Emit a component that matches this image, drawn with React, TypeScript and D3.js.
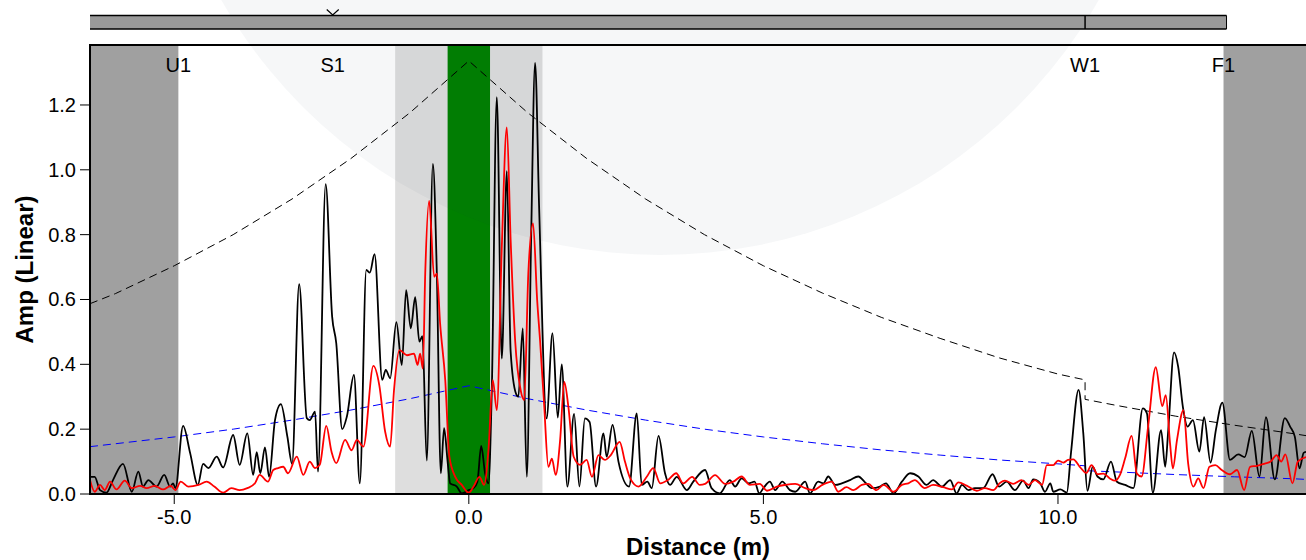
import React from "react";
import * as d3 from "d3";

// ---------- data ----------
const xDomain = [-6.43, 14.21];
const yDomain = [0, 1.385];
const xTickValues = [-5, 0, 5, 10];
const yTickValues = [0, 0.2, 0.4, 0.6, 0.8, 1.0, 1.2];

const eventNames = ["U1", "S1", "W1", "F1"];
const eventDist = [-4.93, -2.31, 10.46, 12.81];

const deadZone = [-1.25, 1.25];
const greenZone = [-0.36, 0.36];

const blackDist = [-6.43, -6.35, -6.26, -6.15, -6.04, -5.87, -5.72, -5.61, -5.53, -5.44, -5.3, -5.17, -5.07, -5.02, -4.98, -4.85, -4.73, -4.6, -4.51, -4.42, -4.28, -4.17, -4.0, -3.89, -3.76, -3.66, -3.6, -3.54, -3.46, -3.39, -3.29, -3.19, -3.08, -3.0, -2.88, -2.75, -2.7, -2.61, -2.56, -2.43, -2.32, -2.25, -2.15, -2.07, -1.95, -1.85, -1.74, -1.68, -1.6, -1.47, -1.41, -1.335, -1.23, -1.137, -1.064, -0.985, -0.91, -0.84, -0.787, -0.714, -0.61, -0.543, -0.475, -0.42, -0.36, -0.317, -0.204, -0.12, 0.0, 0.08, 0.146, 0.21, 0.276, 0.333, 0.39, 0.475, 0.56, 0.645, 0.71, 0.8, 0.84, 0.916, 0.984, 1.057, 1.125, 1.193, 1.32, 1.42, 1.51, 1.577, 1.673, 1.787, 1.877, 1.97, 2.05, 2.16, 2.285, 2.34, 2.44, 2.54, 2.72, 2.85, 2.935, 3.03, 3.105, 3.22, 3.33, 3.415, 3.53, 3.7, 3.81, 4.01, 4.12, 4.26, 4.43, 4.52, 4.63, 4.75, 4.85, 4.93, 5.0, 5.11, 5.2, 5.32, 5.45, 5.54, 5.71, 5.79, 5.93, 6.02, 6.1, 6.22, 6.33, 6.47, 6.61, 6.74, 6.84, 6.98, 7.08, 7.21, 7.35, 7.49, 7.63, 7.77, 7.88, 8.03, 8.17, 8.28, 8.37, 8.48, 8.59, 8.73, 8.89, 9.0, 9.13, 9.27, 9.41, 9.5, 9.58, 9.7, 9.78, 9.87, 9.92, 10.04, 10.15, 10.22, 10.35, 10.43, 10.5, 10.59, 10.67, 10.77, 10.9, 11.0, 11.14, 11.28, 11.44, 11.51, 11.61, 11.75, 11.82, 11.87, 11.97, 12.04, 12.12, 12.2, 12.29, 12.4, 12.48, 12.59, 12.68, 12.79, 12.92, 13.06, 13.17, 13.29, 13.42, 13.53, 13.68, 13.85, 13.94, 14.02, 14.1, 14.17, 14.21];
const blackAmp = [0.053, 0.053, 0.012, 0.004, 0.043, 0.093, 0.007, 0.069, 0.023, 0.043, 0.023, 0.059, 0.023, 0.033, 0.018, 0.21, 0.126, 0.028, 0.093, 0.08, 0.115, 0.082, 0.182, 0.09, 0.187, 0.059, 0.129, 0.064, 0.144, 0.053, 0.228, 0.277, 0.177, 0.093, 0.647, 0.234, 0.228, 0.254, 0.069, 0.956, 0.547, 0.465, 0.2, 0.239, 0.367, 0.033, 0.691, 0.683, 0.74, 0.352, 0.383, 0.357, 0.53, 0.398, 0.629, 0.511, 0.607, 0.47, 0.487, 0.103, 1.018, 0.681, 0.064, 0.203, 0.1, 0.033, 0.023, 0.002, 0.012, 0.018, 0.038, 0.148, 0.064, 0.033, 0.32, 1.224, 0.418, 0.996, 0.439, 0.31, 0.3, 0.511, 0.053, 0.783, 1.33, 0.886, 0.233, 0.496, 0.236, 0.4, 0.023, 0.247, 0.023, 0.233, 0.222, 0.023, 0.187, 0.115, 0.213, 0.1, 0.023, 0.249, 0.028, 0.038, 0.018, 0.179, 0.064, 0.028, 0.053, 0.012, 0.038, 0.074, 0.018, 0.002, 0.043, 0.023, 0.048, 0.033, 0.038, 0.002, 0.018, 0.038, 0.012, 0.038, 0.012, 0.007, 0.038, 0.002, 0.038, 0.033, 0.054, 0.028, 0.033, 0.043, 0.054, 0.033, 0.018, 0.023, 0.033, 0.002, 0.038, 0.064, 0.054, 0.028, 0.043, 0.023, 0.043, 0.002, 0.028, 0.012, 0.018, 0.018, 0.061, 0.023, 0.038, 0.012, 0.041, 0.018, 0.045, 0.033, 0.007, 0.033, 0.007, 0.014, 0.004, 0.125, 0.321, 0.187, 0.01, 0.084, 0.054, 0.045, 0.1, 0.038, 0.028, 0.018, 0.264, 0.249, 0.004, 0.197, 0.084, 0.192, 0.437, 0.393, 0.269, 0.208, 0.228, 0.131, 0.237, 0.097, 0.197, 0.282, 0.105, 0.122, 0.114, 0.195, 0.054, 0.237, 0.045, 0.234, 0.208, 0.177, 0.079, 0.127, 0.13];

const redDist = [-6.43, -6.35, -6.26, -6.18, -6.09, -5.98, -5.84, -5.72, -5.58, -5.47, -5.33, -5.19, -5.06, -4.98, -4.89, -4.76, -4.59, -4.45, -4.32, -4.17, -4.03, -3.89, -3.76, -3.63, -3.55, -3.41, -3.32, -3.24, -3.15, -3.07, -2.92, -2.81, -2.7, -2.61, -2.53, -2.42, -2.33, -2.25, -2.1, -1.99, -1.9, -1.79, -1.62, -1.52, -1.42, -1.335, -1.27, -1.177, -1.05, -0.93, -0.87, -0.827, -0.78, -0.74, -0.673, -0.588, -0.543, -0.487, -0.4, -0.33, -0.23, -0.12, 0.0, 0.08, 0.18, 0.26, 0.333, 0.407, 0.475, 0.56, 0.645, 0.71, 0.787, 0.88, 0.94, 1.01, 1.09, 1.16, 1.21, 1.28, 1.35, 1.41, 1.475, 1.55, 1.62, 1.69, 1.78, 1.89, 2.0, 2.09, 2.2, 2.31, 2.41, 2.56, 2.65, 2.74, 2.88, 3.02, 3.13, 3.25, 3.38, 3.52, 3.64, 3.79, 3.92, 4.01, 4.18, 4.35, 4.49, 4.63, 4.77, 4.94, 5.06, 5.23, 5.37, 5.54, 5.71, 5.85, 6.0, 6.16, 6.27, 6.41, 6.53, 6.67, 6.78, 6.92, 7.04, 7.21, 7.35, 7.46, 7.57, 7.74, 7.88, 8.05, 8.2, 8.31, 8.45, 8.62, 8.76, 8.9, 9.02, 9.1, 9.24, 9.38, 9.5, 9.61, 9.73, 9.81, 9.92, 10.0, 10.09, 10.17, 10.26, 10.37, 10.48, 10.57, 10.67, 10.77, 10.88, 10.97, 11.05, 11.14, 11.25, 11.34, 11.42, 11.53, 11.66, 11.77, 11.83, 11.9, 11.95, 12.02, 12.13, 12.21, 12.3, 12.38, 12.47, 12.57, 12.67, 12.78, 12.92, 13.04, 13.16, 13.26, 13.38, 13.51, 13.61, 13.71, 13.79, 13.86, 13.98, 14.07, 14.21];
const redAmp = [0.043, 0.007, 0.028, 0.012, 0.038, 0.014, 0.041, 0.018, 0.025, 0.018, 0.025, 0.014, 0.025, 0.012, 0.038, 0.023, 0.028, 0.038, 0.023, 0.004, 0.018, 0.012, 0.018, 0.033, 0.059, 0.038, 0.074, 0.08, 0.084, 0.064, 0.115, 0.059, 0.1, 0.08, 0.09, 0.21, 0.13, 0.095, 0.167, 0.135, 0.167, 0.146, 0.395, 0.336, 0.192, 0.146, 0.32, 0.444, 0.428, 0.433, 0.398, 0.433, 0.387, 0.68, 0.904, 0.67, 0.68, 0.525, 0.351, 0.115, 0.053, 0.028, 0.004, 0.023, 0.053, 0.028, 0.135, 0.351, 0.259, 0.763, 1.131, 0.783, 0.471, 0.32, 0.29, 0.681, 0.835, 0.598, 0.471, 0.269, 0.084, 0.109, 0.059, 0.167, 0.346, 0.269, 0.115, 0.09, 0.105, 0.053, 0.12, 0.105, 0.12, 0.161, 0.1, 0.048, 0.023, 0.053, 0.08, 0.033, 0.043, 0.064, 0.033, 0.053, 0.028, 0.031, 0.058, 0.031, 0.038, 0.054, 0.028, 0.031, 0.01, 0.023, 0.028, 0.031, 0.018, 0.012, 0.028, 0.038, 0.007, 0.021, 0.012, 0.028, 0.031, 0.012, 0.028, 0.007, 0.028, 0.033, 0.043, 0.018, 0.028, 0.021, 0.014, 0.036, 0.026, 0.01, 0.018, 0.012, 0.035, 0.041, 0.031, 0.043, 0.028, 0.043, 0.028, 0.089, 0.089, 0.103, 0.097, 0.105, 0.107, 0.084, 0.065, 0.089, 0.061, 0.063, 0.048, 0.041, 0.058, 0.11, 0.179, 0.063, 0.054, 0.208, 0.391, 0.271, 0.305, 0.161, 0.079, 0.166, 0.259, 0.094, 0.023, 0.048, 0.018, 0.084, 0.089, 0.074, 0.061, 0.074, 0.012, 0.084, 0.087, 0.094, 0.1, 0.12, 0.1, 0.122, 0.033, 0.1, 0.114];

// threshold curves (read at anchor distances)
const limitDist = [-6.43, -6, -5, -4, -3, -2, -1, 0, 1, 2, 3, 4, 5, 6, 7, 8, 9, 10, 10.46, 10.46, 11, 12, 13, 14, 14.21];
const blackLimit = [0.587, 0.618, 0.704, 0.8, 0.91, 1.035, 1.176, 1.336, 1.176, 1.035, 0.91, 0.8, 0.704, 0.62, 0.545, 0.48, 0.42, 0.37, 0.352, 0.292, 0.273, 0.24, 0.212, 0.186, 0.18];
const blueLimit = [0.146, 0.155, 0.176, 0.2, 0.228, 0.259, 0.294, 0.334, 0.294, 0.259, 0.228, 0.2, 0.176, 0.155, 0.136, 0.12, 0.105, 0.093, 0.087, 0.072, 0.068, 0.06, 0.053, 0.047, 0.045];

// ---------- layout ----------
const W = 1306;
const H = 560;
const L = 90;
const R = 1306;
const T = 45;
const B = 494;
const FONT = "Liberation Sans, Arial, Helvetica, sans-serif";

const fmt = (v: number) => d3.format(".1f")(v).replace("\u2212", "-");

export default function App() {
  const x = d3.scaleLinear().domain(xDomain).range([L, R]);
  const y = d3.scaleLinear().domain(yDomain).range([B, T]);

  const trace = d3
    .line<[number, number]>()
    .x((d) => x(d[0]))
    .y((d) => y(d[1]))
    .curve(d3.curveMonotoneX);
  const straight = d3
    .line<[number, number]>()
    .x((d) => x(d[0]))
    .y((d) => y(d[1]));

  const blackPts = blackDist.map((d, i) => [d, blackAmp[i]] as [number, number]);
  const redPts = redDist.map((d, i) => [d, redAmp[i]] as [number, number]);
  const bLim = limitDist.map((d, i) => [d, blackLimit[i]] as [number, number]);
  const uLim = limitDist.map((d, i) => [d, blueLimit[i]] as [number, number]);

  const u1 = eventDist[0];
  const s1 = eventDist[1];
  const w1 = eventDist[2];
  const f1 = eventDist[3];

  return (
    <svg
      width={W}
      height={H}
      style={{ position: "absolute", left: 0, top: 0, display: "block", background: "#fff" }}
      fontFamily={FONT}
    >
      <defs>
        <clipPath id="plotClip">
          <rect x={L} y={T} width={R - L} height={B - T} />
        </clipPath>
      </defs>

      {/* shaded zones */}
      <rect x={L} y={T} width={x(u1) - L} height={B - T} fill="#a0a0a0" />
      <rect x={x(f1)} y={T} width={R - x(f1)} height={B - T} fill="#a0a0a0" />
      <rect x={x(deadZone[0])} y={T} width={x(deadZone[1]) - x(deadZone[0])} height={B - T} fill="#dedede" />
      <rect x={x(greenZone[0])} y={T} width={x(greenZone[1]) - x(greenZone[0])} height={B - T} fill="#008000" />

      {/* faint watermark */}
      <circle cx={660} cy={-250} r={505} fill="#1a2a4a" opacity={0.04} />

      {/* threshold curves and traces */}
      <g clipPath="url(#plotClip)">
        <path d={straight(bLim) || ""} fill="none" stroke="#000" strokeWidth={1} strokeDasharray="8,5" />
        <path d={straight(uLim) || ""} fill="none" stroke="#0000ff" strokeWidth={1} strokeDasharray="8,5" />
        <path d={trace(blackPts) || ""} fill="none" stroke="#000" strokeWidth={1.8} strokeLinejoin="round" />
        <path d={trace(redPts) || ""} fill="none" stroke="#ff0000" strokeWidth={1.8} strokeLinejoin="round" />
      </g>

      {/* event labels */}
      {eventNames.map((n, i) => (
        <text key={n} x={x(eventDist[i])} y={72} textAnchor="middle" fontSize={20} fill="#000">
          {n}
        </text>
      ))}

      {/* top fiber bar */}
      <rect x={L} y={15.5} width={x(f1) - L + 3} height={13.5} fill="#9a9a9a" />
      <line x1={L} x2={x(f1) + 3} y1={15.5} y2={15.5} stroke="#000" strokeWidth={1.5} />
      <line x1={L} x2={x(f1) + 3} y1={29} y2={29} stroke="#000" strokeWidth={1.5} />
      <line x1={x(f1) + 3} x2={x(f1) + 3} y1={15.5} y2={29} stroke="#000" strokeWidth={1} />
      <line x1={x(w1)} x2={x(w1)} y1={15.5} y2={29} stroke="#000" strokeWidth={1.5} />
      <path
        d={`M${x(s1) - 6},9.5 L${x(s1)},15 L${x(s1) + 6},9.5`}
        fill="none"
        stroke="#000"
        strokeWidth={1.2}
      />

      {/* frame */}
      <line x1={L} x2={R} y1={T} y2={T} stroke="#000" strokeWidth={2} />
      <line x1={L} x2={L} y1={T - 1} y2={B + 1} stroke="#000" strokeWidth={2} />
      <line x1={L} x2={R} y1={B} y2={B} stroke="#000" strokeWidth={2} />

      {/* y axis */}
      {yTickValues.map((v) => (
        <g key={"y" + v}>
          <line x1={L - 10} x2={L} y1={y(v)} y2={y(v)} stroke="#000" strokeWidth={1} />
          <text x={L - 14} y={y(v)} dy="0.35em" textAnchor="end" fontSize={20} fill="#000">
            {fmt(v)}
          </text>
        </g>
      ))}
      {/* x axis */}
      {xTickValues.map((v) => (
        <g key={"x" + v}>
          <line x1={x(v)} x2={x(v)} y1={B} y2={B + 10} stroke="#000" strokeWidth={1} />
          <text x={x(v)} y={524} textAnchor="middle" fontSize={20} fill="#000">
            {fmt(v)}
          </text>
        </g>
      ))}

      <text x={(L + R) / 2} y={555} textAnchor="middle" fontSize={24} fontWeight="bold" fill="#000">
        Distance (m)
      </text>
      <text
        transform={`translate(33,${(T + B) / 2}) rotate(-90)`}
        textAnchor="middle"
        fontSize={24}
        fontWeight="bold"
        fill="#000"
      >
        Amp (Linear)
      </text>
    </svg>
  );
}
